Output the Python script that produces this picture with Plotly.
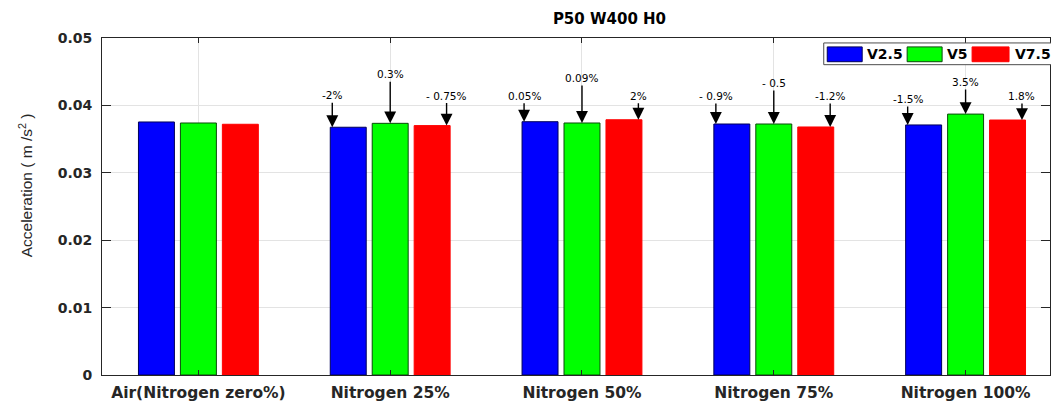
import plotly.graph_objects as go

# Nitrogen share in the gas mixture
categories = ["Air(Nitrogen zero%)", "Nitrogen 25%", "Nitrogen 50%", "Nitrogen 75%", "Nitrogen 100%"]

# Acceleration (m/s^2) for each velocity case
series_names = ["V2.5", "V5", "V7.5"]
acc_v25 = [0.03754, 0.03676, 0.03758, 0.03724, 0.03710]
acc_v5 = [0.03739, 0.03734, 0.03739, 0.03724, 0.03871]
acc_v75 = [0.03720, 0.03700, 0.03787, 0.03680, 0.03783]

# Change relative to air, shown above the nitrogen cases
change_v25 = ["-2%", "0.05%", "- 0.9%", "-1.5%"]
change_v5 = ["0.3%", "0.09%", "- 0.5", "3.5%"]
change_v75 = ["- 0.75%", "2%", "-1.2%", "1.8%"]

y_ticks = [0, 0.01, 0.02, 0.03, 0.04, 0.05]
y_tick_text = ["0", "0.01", "0.02", "0.03", "0.04", "0.05"]

fill_colors = ["#0000ff", "#00ff00", "#ff0000"]
line_colors = ["#00005a", "#0a4a0a", "#ff0000"]

W, H = 1051, 402
L, R, T, B = 102, 0, 38, 23
plot_w = W - L - R
plot_h = H - T - B
px_per_cat = 192.0
x_lo = -0.5026
x_hi = x_lo + plot_w / px_per_cat

tick_font = dict(family="DejaVu Sans", size=14, color="#262626", weight="bold")

fig = go.Figure()
for name, vals, fc, lc in zip(series_names, [acc_v25, acc_v5, acc_v75], fill_colors, line_colors):
    fig.add_trace(go.Bar(
        x=list(range(len(categories))), y=vals, name=name,
        marker=dict(color=fc, line=dict(color=lc, width=1)),
        showlegend=False,
    ))

# arrow annotations: arrow x offset within the group, label vertical offset (px)
arrow_dx = [-0.302, 0.0, 0.294]
label_dy = [
    [-32, -26, -28, -26],
    [-49, -45, -41, -32],
    [-30, -24, -31, -24],
]
annotations = []
for s, (vals, labels) in enumerate(zip([acc_v25, acc_v5, acc_v75], [change_v25, change_v5, change_v75])):
    for k, lab in enumerate(labels):
        i = k + 1
        annotations.append(dict(
            x=i + arrow_dx[s], y=vals[i], xref="x", yref="y",
            text=lab, showarrow=True, ax=0, ay=label_dy[s][k],
            arrowhead=2, arrowsize=1.7, arrowwidth=1.4, arrowcolor="#000000",
            standoff=0, startstandoff=0,
            font=dict(family="DejaVu Sans", size=10.5, color="#000000"),
        ))

# y-axis title
annotations.append(dict(
    x=(26 - L) / plot_w, y=(H - B - 187) / plot_h, xref="paper", yref="paper",
    text="Acceleration ( m /s<sup>2</sup> )", textangle=-90, showarrow=False,
    xanchor="center", yanchor="middle",
    font=dict(family="Liberation Sans", size=15.5, color="#262626"),
))


def px_x(p):
    return (p - L) / plot_w


def px_y(p):
    return (H - B - p) / plot_h


# legend box drawn along the top right of the axes
shapes = [dict(type="rect", xref="paper", yref="paper",
               x0=px_x(824.5), x1=px_x(1070), y0=px_y(65), y1=px_y(43),
               fillcolor="#ffffff", line=dict(color="#4d4d4d", width=1), layer="above")]
patch_x = [828, 908, 973]
patch_w = [35, 35, 37]
text_x = [866, 946, 1014]
for name, fc, lc, x0, w, tx in zip(series_names, fill_colors, line_colors, patch_x, patch_w, text_x):
    shapes.append(dict(type="rect", xref="paper", yref="paper",
                       x0=px_x(x0), x1=px_x(x0 + w), y0=px_y(62), y1=px_y(47),
                       fillcolor=fc, line=dict(color=lc, width=1), layer="above"))
    annotations.append(dict(x=px_x(tx), y=px_y(54.5), xref="paper", yref="paper",
                            text=name, showarrow=False, xanchor="left", yanchor="middle",
                            font=dict(family="DejaVu Sans", size=14, color="#000000", weight="bold")))

fig.update_layout(
    width=W, height=H,
    margin=dict(l=L, r=R, t=T, b=B, pad=0),
    paper_bgcolor="#ffffff", plot_bgcolor="#ffffff",
    barmode="group", bargap=0.34375, bargroupgap=0.142857,
    title=dict(text="P50 W400 H0", x=px_x(610), xref="paper", xanchor="center",
               y=1 - 19 / H, yref="container", yanchor="middle",
               font=dict(family="DejaVu Sans", size=15, color="#000000", weight="bold")),
    annotations=annotations,
    shapes=shapes,
    showlegend=False,
)
fig.update_xaxes(
    range=[x_lo, x_hi], tickmode="array", tickvals=list(range(len(categories))), ticktext=categories,
    showline=True, linecolor="#262626", linewidth=1, mirror="ticks",
    ticks="inside", ticklen=5, tickcolor="#262626",
    showgrid=True, gridcolor="#e3e3e3", gridwidth=1, zeroline=False,
    tickfont=dict(family="DejaVu Sans", size=15.5, color="#262626", weight="bold"),
    ticklabelstandoff=3,
)
fig.update_yaxes(
    range=[0, 0.05], tickmode="array", tickvals=y_ticks, ticktext=y_tick_text,
    showline=True, linecolor="#262626", linewidth=1, mirror="ticks",
    ticks="inside", ticklen=9, tickcolor="#262626",
    showgrid=True, gridcolor="#e3e3e3", gridwidth=1, zeroline=False,
    tickfont=tick_font, ticklabelstandoff=6,
)

fig.write_html("out.html")
